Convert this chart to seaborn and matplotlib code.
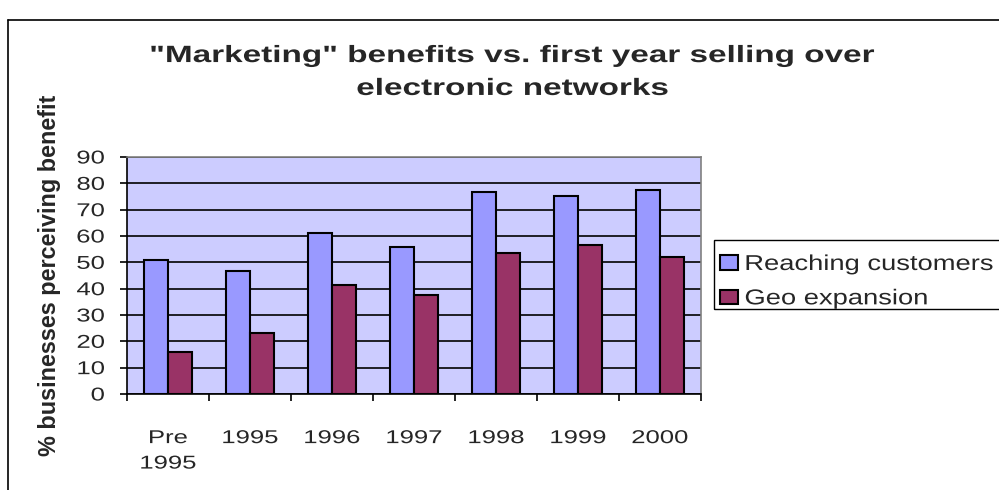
import matplotlib
matplotlib.use("Agg")
import matplotlib.pyplot as plt
import seaborn as sns
import pandas as pd
from matplotlib.lines import Line2D
from matplotlib.patches import Patch, Rectangle
from matplotlib.patheffects import AbstractPathEffect
from matplotlib.transforms import Affine2D

categories = ["Pre\n1995", "1995", "1996", "1997", "1998", "1999", "2000"]
reaching = [51, 46.6, 61, 56, 76.8, 75.2, 77.3]
geo = [16, 23.2, 41.5, 37.5, 53.6, 56.4, 51.9]
series = ["Reaching customers", "Geo expansion"]
colors = ["#9999FF", "#993366"]

df = pd.DataFrame({
    "cat": categories * 2,
    "val": reaching + geo,
    "series": [series[0]] * len(categories) + [series[1]] * len(categories),
})


class HStretch(AbstractPathEffect):
    """Widen the glyphs horizontally (the reference uses wide letter spacing)."""

    def __init__(self, sx, anchor="center"):
        super().__init__()
        self.sx = sx
        self.anchor = anchor

    def draw_path(self, renderer, gc, tpath, affine, rgbFace=None):
        ext = tpath.get_extents(affine)
        if self.anchor == "center":
            x0 = (ext.x0 + ext.x1) / 2
        elif self.anchor == "right":
            x0 = ext.x1
        else:
            x0 = ext.x0
        t = affine + Affine2D().translate(-x0, 0).scale(self.sx, 1).translate(x0, 0)
        renderer.draw_path(gc, tpath, t, rgbFace)


sns.set_theme(style="white")
plt.rcParams['font.family'] = ['Liberation Sans', 'DejaVu Sans']

fig = plt.figure(figsize=(9.99, 4.90), dpi=100)
ax = fig.add_axes([127/999, 1 - 394/490, 574/999, 237/490])
sns.barplot(data=df, x="cat", y="val", hue="series", palette=colors,
            width=0.575, edgecolor="black", linewidth=1.5, ax=ax, legend=False,
            saturation=1, zorder=3)
ax.set_facecolor("#CCCCFF")
ax.set_ylim(0, 90)
ax.set_xlim(-0.5, len(categories) - 0.5)
ax.set_yticks(range(0, 91, 10))
ax.yaxis.grid(True, color="black", linewidth=1.2, zorder=0)
ax.set_axisbelow(True)
for s in ["top", "right"]:
    ax.spines[s].set_color("#808080")
    ax.spines[s].set_linewidth(1.2)
for s in ["left", "bottom"]:
    ax.spines[s].set_color("black")
    ax.spines[s].set_linewidth(1.2)

ax.tick_params(axis="y", which="major", left=True, length=5, width=1.2,
               color="black", labelsize=13.4, pad=11)
ax.set_xticks([i + 0.5 for i in range(-1, len(categories))], minor=True)
ax.tick_params(axis="x", which="minor", bottom=True, length=5, width=1.2, color="black")
ax.tick_params(axis="x", which="major", bottom=False, length=0, labelsize=13.4, pad=26)
ax.set_xlabel("")
ax.set_ylabel("% businesses perceiving benefit", fontsize=16.8, fontweight="bold", labelpad=16.3)

title = fig.text(0.513, 1 - 72/490,
                 "\"Marketing\" benefits vs. first year selling over\nelectronic networks",
                 ha="center", va="center", fontsize=17, fontweight="bold", linespacing=1.55)
title.set_path_effects([HStretch(1.41, "center")])

handles = [Patch(facecolor=c, edgecolor="black", linewidth=1.5) for c in colors]
leg = fig.legend(handles, series, loc="upper left", bbox_to_anchor=(720/999, 1 - 254/490),
                 fontsize=15.5, frameon=False, handlelength=0.85, handleheight=0.65,
                 handletextpad=0.3, borderpad=0, labelspacing=0.62, borderaxespad=0)
for t in leg.get_texts():
    t.set_path_effects([HStretch(1.27, "left")])

fig.add_artist(Rectangle((714/999, 1 - 309/490), 300/999, 69/490, transform=fig.transFigure,
                         facecolor="none", edgecolor="black", linewidth=1.0))
fig.add_artist(Line2D([8/999, 1], [1 - 20/490, 1 - 20/490], color="black", linewidth=1.2,
                      transform=fig.transFigure))
fig.add_artist(Line2D([8/999, 8/999], [0, 1 - 20/490], color="black", linewidth=1.2,
                      transform=fig.transFigure))

fig.canvas.draw()
for lbl in ax.get_xticklabels():
    lbl.set_linespacing(1.65)
    lbl.set_path_effects([HStretch(1.38, "center")])
for lbl in ax.get_yticklabels():
    lbl.set_path_effects([HStretch(1.38, "right")])

fig.savefig("out.png", dpi=100)
